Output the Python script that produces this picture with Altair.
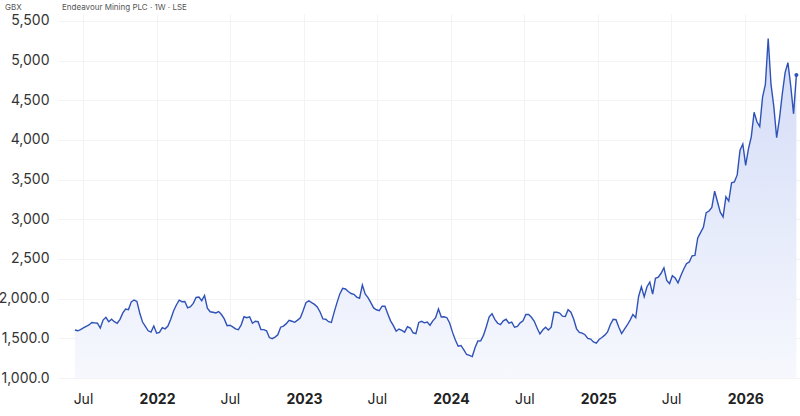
import altair as alt
import pandas as pd

# Weekly closes (GBX), one value per week starting at start_date
start_date = "2021-06-11"
values = [
    1605, 1595, 1610, 1632, 1652, 1668, 1700, 1695, 1690, 1630,
    1730, 1765, 1710, 1740, 1710, 1690, 1740, 1820, 1868, 1862,
    1960, 1983, 1965, 1820, 1705, 1650, 1595, 1578, 1655, 1565,
    1575, 1635, 1620, 1655, 1740, 1845, 1920, 1980, 1962, 1965,
    1885, 1900, 1940, 2015, 2020, 1975, 2040, 1880, 1835, 1828,
    1820, 1838, 1800, 1745, 1660, 1665, 1645, 1620, 1608, 1670,
    1772, 1760, 1770, 1690, 1715, 1710, 1610, 1610, 1595, 1510,
    1495, 1515, 1545, 1640, 1655, 1685, 1728, 1715, 1702, 1730,
    1760, 1850, 1950, 1974, 1950, 1928, 1895, 1832, 1745, 1740,
    1710, 1700, 1830, 1950, 2060, 2130, 2122, 2090, 2065, 2055,
    2020, 2006, 2172, 2060, 2014, 1950, 1883, 1860, 1850, 1905,
    1905, 1810, 1720, 1660, 1590, 1617, 1600, 1578, 1646, 1630,
    1570, 1560, 1700, 1715, 1695, 1705, 1665, 1720, 1760, 1870,
    1768, 1772, 1760, 1690, 1575, 1480, 1400, 1410, 1355, 1296,
    1285, 1270, 1385, 1466, 1468, 1540, 1650, 1770, 1810, 1740,
    1690, 1672, 1720, 1740, 1690, 1705, 1640, 1650, 1695, 1720,
    1800, 1800, 1765, 1715, 1630, 1555, 1605, 1640, 1605, 1640,
    1828, 1828, 1818, 1780, 1775, 1862, 1830, 1740, 1620, 1575,
    1565, 1545, 1500, 1490, 1455, 1440, 1485, 1510, 1540, 1580,
    1675, 1740, 1735, 1640, 1560, 1615, 1668, 1730, 1800, 1760,
    2024, 2150, 2024, 2150, 2210, 2058, 2256, 2270, 2320, 2390,
    2230, 2190, 2289, 2260, 2200, 2290, 2370, 2440, 2463, 2540,
    2545, 2765, 2833, 2900, 3085, 3105, 3150, 3356, 3221, 3090,
    3030, 3285, 3230, 3460, 3470, 3560, 3870, 3950, 3680, 3890,
    4040, 4350, 4230, 4170, 4540, 4700, 5280, 4700, 4420, 4030,
    4270, 4580, 4850, 4975, 4680, 4330, 4818,
]

x_ticks = [(2021, 7), (2022, 1), (2022, 7), (2023, 1), (2023, 7), (2024, 1),
           (2024, 7), (2025, 1), (2025, 7), (2026, 1)]
y_ticks = [1000, 1500, 2000, 2500, 3000, 3500, 4000, 4500, 5000, 5500]
currency = "GBX"
header = "Endeavour Mining PLC · 1W · LSE"

dates = pd.date_range(start_date, periods=len(values), freq="7D").strftime("%Y-%m-%d")
df = pd.DataFrame({"date": dates, "price": values})
last = df.tail(1)

FONT = "Inter"
LINE = "#2f52b8"

x_enc = alt.X(
    "date:T",
    scale=alt.Scale(
        type="utc",
        domain=[alt.DateTime(year=2021, month=4, date=30, utc=True),
                alt.DateTime(year=2026, month=5, date=17, utc=True)],
    ),
    axis=alt.Axis(
        values=[alt.DateTime(year=y, month=m, date=1, utc=True) for y, m in x_ticks],
        labelExpr="utcmonth(datum.value) == 0 ? utcFormat(datum.value, '%Y') : utcFormat(datum.value, '%b')",
        labelFontWeight=alt.condition("utcmonth(datum.value) == 0", alt.value("bold"), alt.value("normal")),
        labelFontSize=14,
        labelColor="#222222",
        labelPadding=14,
        labelFont=FONT,
        grid=True,
        gridColor="#f3f3f6",
        domain=False,
        ticks=False,
        title=None,
    ),
)
y_enc = alt.Y(
    "price:Q",
    scale=alt.Scale(domain=[1000, 5588], zero=False, nice=False),
    axis=alt.Axis(
        values=y_ticks,
        labelExpr="datum.value >= 2500 ? format(datum.value, ',') : format(datum.value, ',.1f')",
        labelFontSize=14,
        labelColor="#333333",
        labelPadding=9,
        labelFont=FONT,
        grid=True,
        gridColor="#f3f3f6",
        domain=False,
        ticks=False,
        title=None,
    ),
)

area = alt.Chart(df).mark_area(
    clip=True,
    color=alt.Gradient(
        gradient="linear",
        stops=[alt.GradientStop(color="#d2dbf7", offset=0),
               alt.GradientStop(color="#ffffff", offset=1)],
        x1=1, x2=1, y1=0, y2=1,
    ),
).encode(x=x_enc, y=y_enc)

line = alt.Chart(df).mark_line(color=LINE, strokeWidth=1.4, clip=True).encode(
    x="date:T", y="price:Q")

dot = alt.Chart(last).mark_point(filled=True, color=LINE, size=16, opacity=1).encode(
    x="date:T", y="price:Q")

hdr1 = alt.Chart(pd.DataFrame({"t": [currency]})).mark_text(
    align="left", baseline="middle", fontSize=8, color="#555555", font=FONT
).encode(x=alt.value(-53), y=alt.value(-6), text="t:N")

hdr2 = alt.Chart(pd.DataFrame({"t": [header]})).mark_text(
    align="left", baseline="middle", fontSize=8, color="#555555", font=FONT
).encode(x=alt.value(4), y=alt.value(-6), text="t:N")

chart = alt.layer(area, line, dot, hdr1, hdr2).properties(
    width=742,
    height=364,
    autosize=alt.AutoSizeParams(type="none"),
    padding={"left": 58, "top": 14, "right": 0, "bottom": 38},
    background="white",
).configure_view(stroke=None)

chart.save("out.html", embed_options={"renderer": "svg", "actions": False})
